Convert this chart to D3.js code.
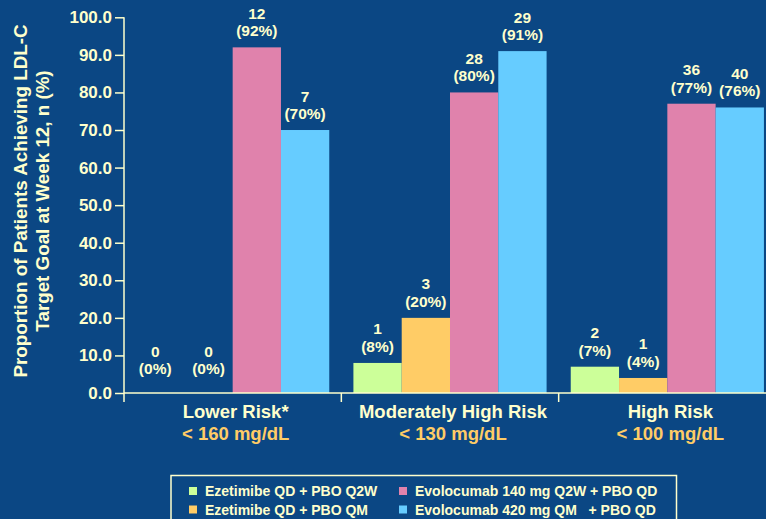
<!DOCTYPE html>
<html>
<head>
<meta charset="utf-8">
<script src="https://cdn.jsdelivr.net/npm/d3@7/dist/d3.min.js"></script>
<style>
  html, body { margin: 0; padding: 0; background: #0B4784; }
  svg { display: block; }
  text { font-family: "Liberation Sans", Arial, sans-serif; font-weight: bold; }
</style>
</head>
<body>
<svg id="chart" width="766" height="519"></svg>
<script>
// Risk groups and their LDL-C targets
const groups = ["Lower Risk*", "Moderately High Risk", "High Risk"];
const targets = ["< 160 mg/dL", "< 130 mg/dL", "< 100 mg/dL"];

// Treatment arms
const series = [
  "Ezetimibe QD + PBO Q2W",
  "Ezetimibe QD + PBO QM",
  "Evolocumab 140 mg Q2W + PBO QD",
  "Evolocumab 420 mg QM   + PBO QD"
];
const colors = ["#CCFF99", "#FFCC66", "#E082AC", "#66CCFF"];

// Percent of patients at goal, per arm, per risk group
const ezeQ2W = [0, 8, 7];
const ezeQM = [0, 20, 4];
const evo140 = [92, 80, 77];
const evo420 = [70, 91, 76];

// Patient counts at goal
const nEzeQ2W = [0, 1, 2];
const nEzeQM = [0, 3, 1];
const nEvo140 = [12, 28, 36];
const nEvo420 = [7, 29, 40];

const yTicks = [0, 10, 20, 30, 40, 50, 60, 70, 80, 90, 100];

const pct = [ezeQ2W, ezeQM, evo140, evo420];
const counts = [nEzeQ2W, nEzeQM, nEvo140, nEvo420];

const textColor = "#FFFFCC";
const targetColor = "#FFCC66";

const svg = d3.select("#chart");

const x0 = d3.scaleBand().domain(groups).range([124, 776]).padding(0);
const x1 = d3.scaleBand().domain(series).range([0, x0.bandwidth()])
  .paddingInner(0).paddingOuter(0.25);
const y = d3.scaleLinear().domain([0, 100]).range([393, 17.3]);

// Flatten to one record per bar
const bars = [];
groups.forEach((g, gi) => {
  series.forEach((s, si) => {
    bars.push({ group: g, series: s, si, value: pct[si][gi], n: counts[si][gi] });
  });
});

// Bars
svg.append("g").selectAll("rect")
  .data(bars)
  .join("rect")
  .attr("x", d => x0(d.group) + x1(d.series))
  .attr("y", d => y(d.value))
  .attr("width", x1.bandwidth())
  .attr("height", d => y(0) - y(d.value))
  .attr("fill", d => colors[d.si]);

// Value labels: count above, percent beneath
const lab = svg.append("g")
  .attr("fill", textColor)
  .attr("font-size", 15.5)
  .attr("text-anchor", "middle");
bars.forEach(d => {
  const cx = x0(d.group) + x1(d.series) + x1.bandwidth() / 2 - (d.value === 0 && d.si === 0 ? 5 : 0);
  const base = Math.min(y(d.value), y(0) - 8) - 11;
  lab.append("text").attr("x", cx).attr("y", base).text(`(${d.value}%)`);
  lab.append("text").attr("x", cx).attr("y", base - 17.5).text(d.n);
});

// Y axis
const yAxis = svg.append("g")
  .attr("transform", "translate(124,0)")
  .call(d3.axisLeft(y).tickValues(yTicks).tickFormat(d3.format(".1f")).tickSize(9).tickPadding(3));
yAxis.select(".domain").remove();
yAxis.selectAll(".tick line").attr("stroke", textColor).attr("stroke-width", 1.5);
yAxis.selectAll(".tick text")
  .attr("fill", textColor)
  .attr("font-size", 17)
  .attr("font-family", "Liberation Sans, Arial, sans-serif")
  .attr("font-weight", "bold");
svg.append("line")
  .attr("x1", 124).attr("x2", 124)
  .attr("y1", y(100)).attr("y2", y(0) + 9)
  .attr("stroke", textColor).attr("stroke-width", 1.5);

// X axis baseline with group divider ticks
svg.append("line")
  .attr("x1", 124).attr("x2", 766)
  .attr("y1", y(0)).attr("y2", y(0))
  .attr("stroke", textColor).attr("stroke-width", 1.5);
groups.slice(1).forEach(g => {
  svg.append("line")
    .attr("x1", x0(g)).attr("x2", x0(g))
    .attr("y1", y(0)).attr("y2", y(0) + 9)
    .attr("stroke", textColor).attr("stroke-width", 1.5);
});

// Group labels and targets
groups.forEach((g, i) => {
  const cx = x0(g) + x0.bandwidth() / 2 + 3;
  svg.append("text")
    .attr("x", cx).attr("y", 418)
    .attr("text-anchor", "middle")
    .attr("font-size", 18.5)
    .attr("fill", textColor)
    .text(g);
  svg.append("text")
    .attr("x", cx).attr("y", 440)
    .attr("text-anchor", "middle")
    .attr("font-size", 18.5)
    .attr("fill", targetColor)
    .text(targets[i]);
});

// Y axis title
const yt = svg.append("text")
  .attr("transform", "translate(0,201) rotate(-90)")
  .attr("text-anchor", "middle")
  .attr("font-size", 18.8)
  .attr("fill", textColor);
yt.append("tspan").attr("x", 0).attr("y", 27).text("Proportion of Patients Achieving LDL-C");
yt.append("tspan").attr("x", 0).attr("y", 48.5).text("Target Goal at Week 12, n (%)");

// Legend
const lg = svg.append("g");
lg.append("rect")
  .attr("x", 171).attr("y", 475.5)
  .attr("width", 505.5).attr("height", 60)
  .attr("fill", "none")
  .attr("stroke", textColor).attr("stroke-width", 1.5);
const legPos = [
  { x: 189, y: 491 }, { x: 189, y: 509.5 },
  { x: 399, y: 491 }, { x: 399, y: 509.5 }
];
series.forEach((s, i) => {
  const p = legPos[i];
  lg.append("rect")
    .attr("x", p.x).attr("y", p.y - 4)
    .attr("width", 8).attr("height", 8)
    .attr("fill", colors[i]);
  lg.append("text")
    .attr("x", p.x + 16).attr("y", p.y + 5)
    .attr("font-size", 14)
    .attr("fill", textColor)
    .attr("xml:space", "preserve")
    .style("white-space", "pre")
    .text(s);
});
</script>
</body>
</html>
